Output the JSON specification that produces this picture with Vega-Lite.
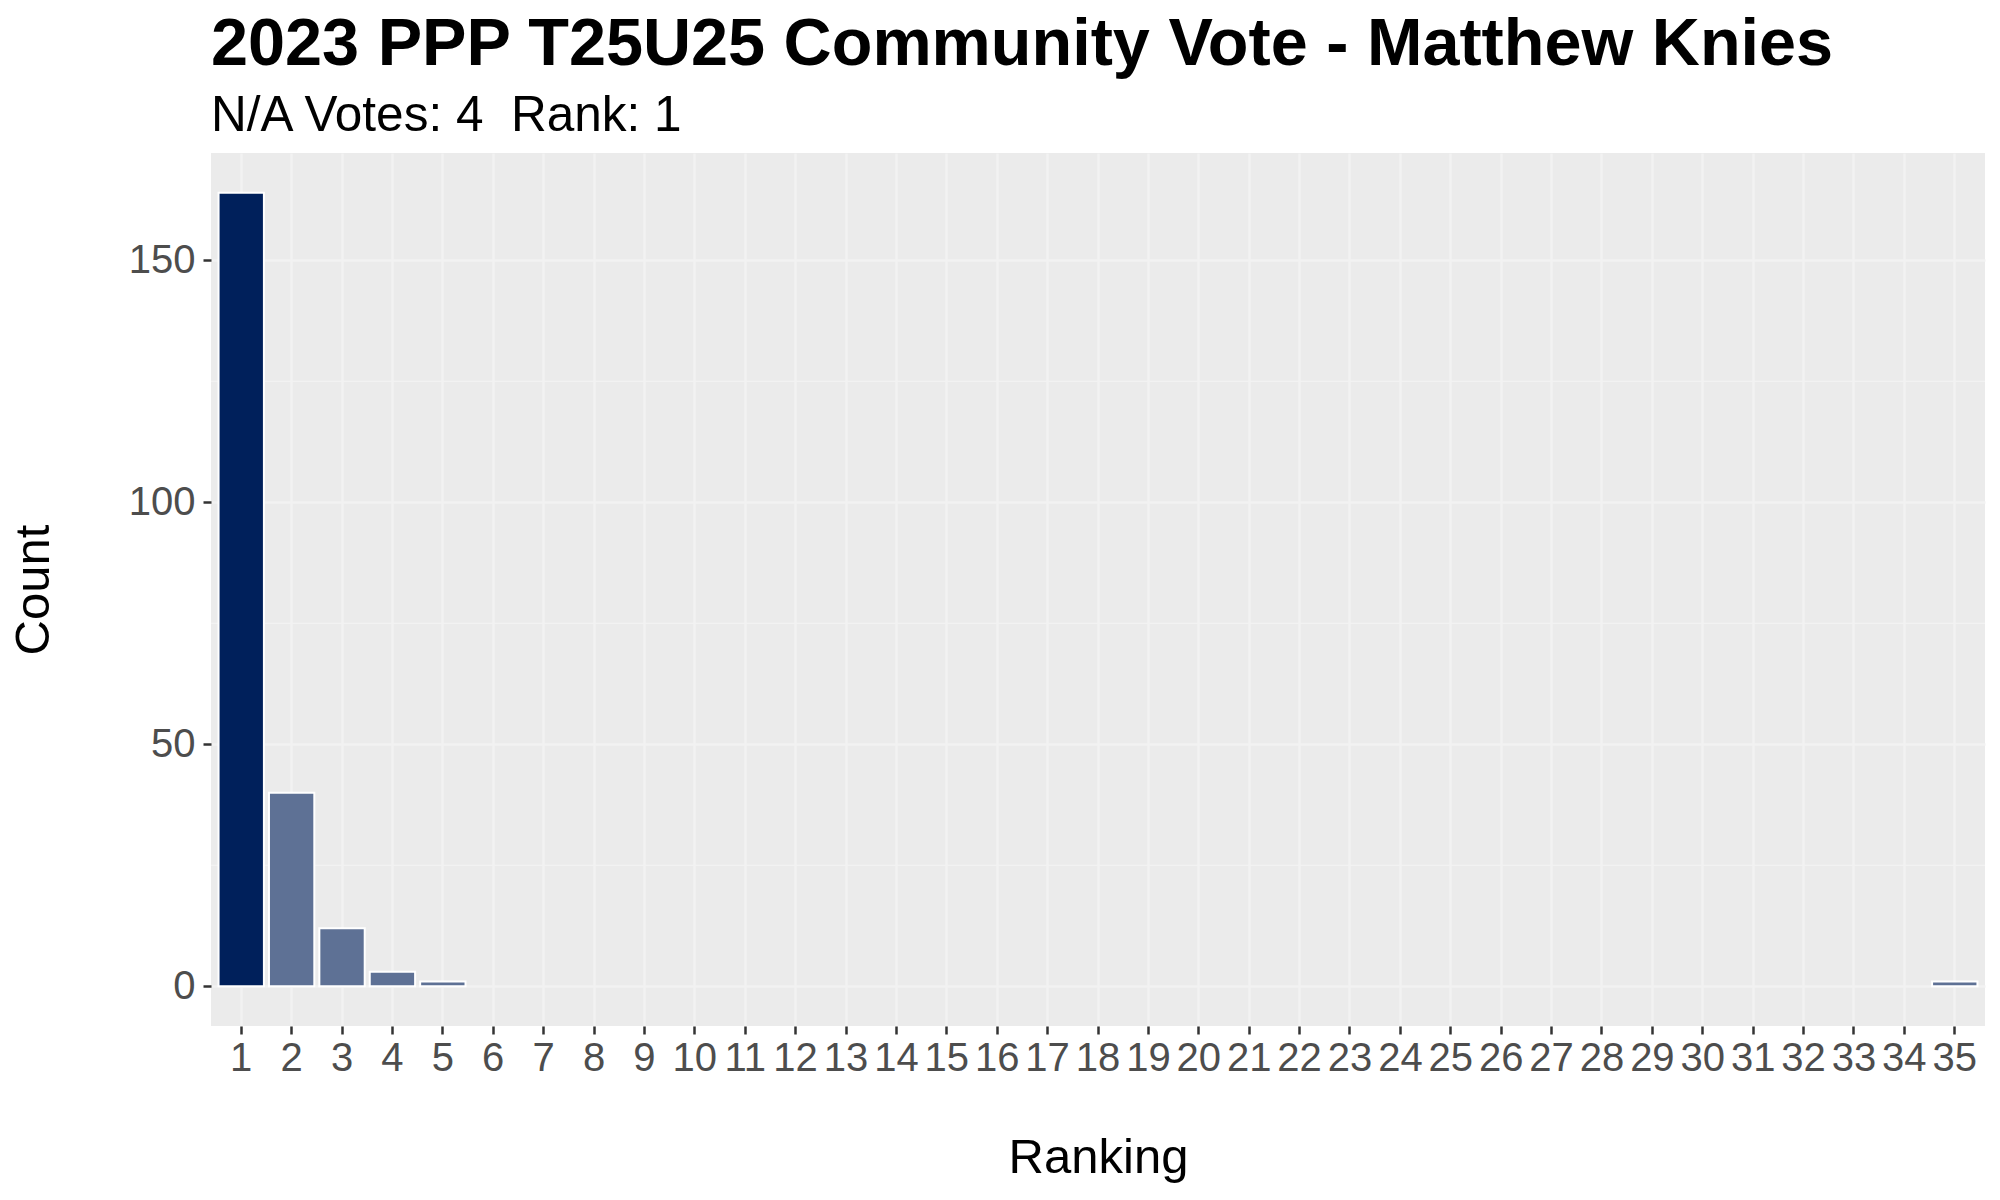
{
  "$schema": "https://vega.github.io/schema/vega-lite/v6.json",
  "width": 1774,
  "height": 873,
  "autosize": {"type": "none"},
  "padding": {"left": 211, "top": 153, "right": 15, "bottom": 174},
  "background": "white",
  "config": {
    "view": {"fill": "#EBEBEB", "stroke": null},
    "font": "Liberation Sans",
    "axis": {
      "labelFont": "Liberation Sans",
      "labelFontSize": 40,
      "labelColor": "#4D4D4D",
      "tickColor": "#333333",
      "tickSize": 8,
      "tickWidth": 2.5,
      "domain": false,
      "gridColor": "#F2F2F2",
      "gridWidth": 2.5,
      "titleFont": "Liberation Sans",
      "titleFontSize": 49,
      "titleFontWeight": "normal",
      "titleColor": "black",
      "labelOverlap": false,
      "labelBound": false
    }
  },
  "title": {
    "text": "2023 PPP T25U25 Community Vote - Matthew Knies",
    "subtitle": "N/A Votes: 4\u00a0 Rank: 1",
    "anchor": "start",
    "frame": "group",
    "font": "Liberation Sans",
    "fontSize": 66.6,
    "fontWeight": "bold",
    "color": "black",
    "subtitleFont": "Liberation Sans",
    "subtitleFontSize": 49.5,
    "subtitleColor": "black",
    "subtitlePadding": 13,
    "offset": 13
  },
  "encoding": {
    "y": {
      "field": "Count",
      "type": "quantitative",
      "scale": {"domain": [-8.2, 172.2], "nice": false, "zero": false},
      "axis": {"values": [0, 50, 100, 150], "title": "Count", "grid": true, "labelPadding": 8, "titlePadding": 70}
    }
  },
  "layer": [
    {
      "data": {"values": [{"Count": 25}, {"Count": 75}, {"Count": 125}]},
      "mark": {"type": "rule", "color": "#F2F2F2", "strokeWidth": 1.2}
    },
    {
      "data": {
        "values": [
          {"Ranking": 1, "Count": 164},
          {"Ranking": 2, "Count": 40},
          {"Ranking": 3, "Count": 12},
          {"Ranking": 4, "Count": 3},
          {"Ranking": 5, "Count": 1},
          {"Ranking": 35, "Count": 1}
        ]
      },
      "mark": {"type": "bar", "stroke": "white", "strokeWidth": 2},
      "encoding": {
        "x": {
          "field": "Ranking",
          "type": "ordinal",
          "scale": {
            "domain": [1,2,3,4,5,6,7,8,9,10,11,12,13,14,15,16,17,18,19,20,21,22,23,24,25,26,27,28,29,30,31,32,33,34,35],
            "paddingInner": 0.1,
            "paddingOuter": 0.15
          },
          "axis": {"title": "Ranking", "labelAngle": 0, "grid": true, "bandPosition": 0.5, "labelPadding": 4, "titlePadding": 55}
        },
        "y2": {"datum": 0},
        "fill": {
          "condition": {"test": "datum.Ranking == 1", "value": "#00205B"},
          "value": "#5E7195"
        }
      }
    }
  ]
}
